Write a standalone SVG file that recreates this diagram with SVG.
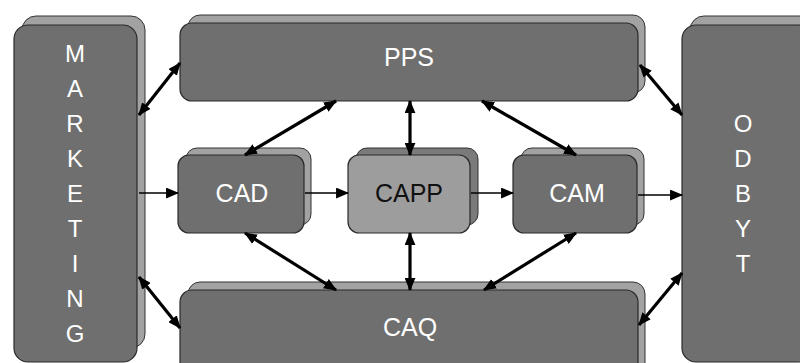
<svg xmlns="http://www.w3.org/2000/svg" width="800" height="363" viewBox="0 0 800 363">
<style>
.back{fill:#a2a2a2;stroke:#333;stroke-width:1}
.front{fill:#6f6f6f;stroke:#2a2a2a;stroke-width:1.2}
.frontL{fill:#9d9d9d;stroke:#2a2a2a;stroke-width:1.2}
.backL{fill:#7a7a7a;stroke:#333;stroke-width:1}
.t{font-family:"Liberation Sans",Arial,sans-serif;font-size:25px;fill:#fff;text-anchor:middle}
.v{font-family:"Liberation Sans",Arial,sans-serif;font-size:24px;fill:#fff;text-anchor:middle}
.dk{fill:#111}
.thick{stroke:#000;stroke-width:3.2;fill:none;marker-start:url(#ah);marker-end:url(#ah)}
.thin{stroke:#000;stroke-width:1.6;fill:none;marker-end:url(#as)}
</style>
<defs>
<marker id="ah" viewBox="0 0 12 10" refX="11" refY="5" markerWidth="13" markerHeight="11" markerUnits="userSpaceOnUse" orient="auto-start-reverse"><path d="M0,0 L12,5 L0,10 z" fill="#000"/></marker>
<marker id="as" viewBox="0 0 12 10" refX="11" refY="5" markerWidth="13" markerHeight="11" markerUnits="userSpaceOnUse" orient="auto"><path d="M0,0 L12,5 L0,10 z" fill="#000"/></marker>
</defs>
<g id="marketing">
<rect class="back" x="22" y="16" width="123" height="332" rx="14"/>
<rect class="front" x="14" y="25" width="123" height="337" rx="14"/>
<text class="v" x="75" y="62">M</text>
<text class="v" x="75" y="97">A</text>
<text class="v" x="75" y="132">R</text>
<text class="v" x="75" y="167">K</text>
<text class="v" x="75" y="202">E</text>
<text class="v" x="75" y="237">T</text>
<text class="v" x="75" y="272">I</text>
<text class="v" x="75" y="307">N</text>
<text class="v" x="75" y="342">G</text>
</g>
<g id="pps">
<rect class="back" x="188" y="15" width="457" height="78" rx="12"/>
<rect class="front" x="180" y="23" width="458" height="78" rx="12"/>
<text class="t" x="409" y="66">PPS</text>
</g>
<g id="cad">
<rect class="back" x="186" y="148" width="125" height="77" rx="11"/>
<rect class="front" x="178" y="155" width="126" height="78" rx="11"/>
<text class="t" x="242" y="202">CAD</text>
</g>
<g id="capp">
<rect class="backL" x="356" y="148" width="122" height="77" rx="11"/>
<rect class="frontL" x="348" y="155" width="122" height="78" rx="11"/>
<text class="t dk" x="409" y="202">CAPP</text>
</g>
<g id="cam">
<rect class="back" x="521" y="148" width="123" height="77" rx="11"/>
<rect class="front" x="513" y="155" width="124" height="78" rx="11"/>
<text class="t" x="577" y="202">CAM</text>
</g>
<g id="caq">
<rect class="back" x="188" y="282" width="457" height="100" rx="12"/>
<rect class="front" x="180" y="290" width="458" height="100" rx="12"/>
<text class="t" x="410" y="336">CAQ</text>
</g>
<g id="odbyt">
<rect class="back" x="690" y="16" width="130" height="332" rx="14"/>
<rect class="front" x="682" y="25" width="130" height="337" rx="14"/>
<text class="v" x="743" y="132">O</text>
<text class="v" x="743" y="167">D</text>
<text class="v" x="743" y="202">B</text>
<text class="v" x="743" y="237">Y</text>
<text class="v" x="743" y="272">T</text>
</g>
<g id="connectors">
<line class="thick" x1="139" y1="115" x2="180" y2="63"/>
<line class="thin" x1="139" y1="193" x2="178" y2="193"/>
<line class="thick" x1="139" y1="277" x2="180" y2="328"/>
<line class="thick" x1="336" y1="101" x2="245" y2="155"/>
<line class="thick" x1="410" y1="101" x2="410" y2="155"/>
<line class="thick" x1="482" y1="101" x2="576" y2="155"/>
<line class="thin" x1="305" y1="193" x2="348" y2="193"/>
<line class="thin" x1="471" y1="193" x2="513" y2="193"/>
<line class="thin" x1="638" y1="195" x2="682" y2="195"/>
<line class="thick" x1="245" y1="233" x2="336" y2="290"/>
<line class="thick" x1="410" y1="233" x2="410" y2="290"/>
<line class="thick" x1="576" y1="233" x2="484" y2="290"/>
<line class="thick" x1="640" y1="65" x2="682" y2="115"/>
<line class="thick" x1="639" y1="325" x2="682" y2="273"/>
</g>
</svg>
